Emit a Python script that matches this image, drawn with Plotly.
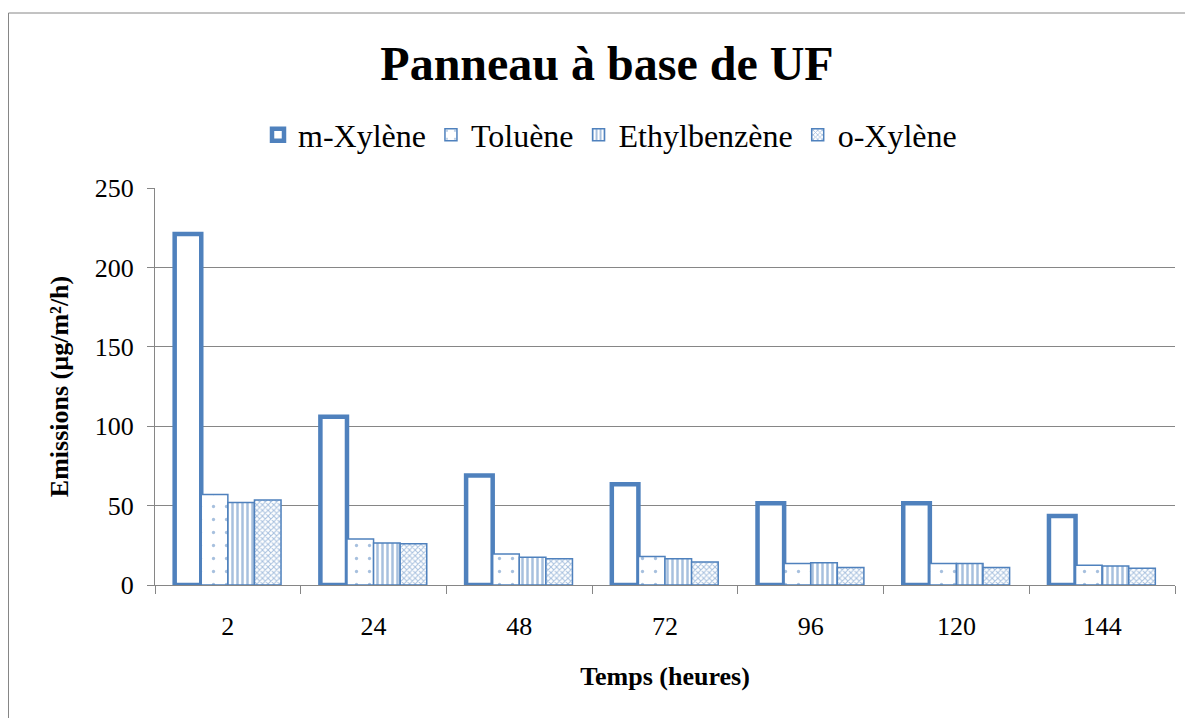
import plotly.graph_objects as go

categories = ["2", "24", "48", "72", "96", "120", "144"]
m_xylene = [221, 106, 69, 63.5, 51.5, 51.5, 43.5]
toluene = [57, 29, 19.5, 18, 13.5, 13.5, 12.5]
ethylbenzene = [52, 26.5, 17.5, 16.5, 14, 13.5, 12]
o_xylene = [53.5, 26, 16.5, 14.5, 11, 11, 10.5]

blue = "#4F81BD"
font = "Times New Roman, Liberation Serif, serif"

fig = go.Figure()
fig.add_trace(go.Bar(name="m-Xylène", x=categories, y=m_xylene,
                     marker=dict(color="white", line=dict(color=blue, width=4.5))))
fig.add_trace(go.Bar(name="Toluène", x=categories, y=toluene,
                     marker=dict(color="white", line=dict(color=blue, width=1.5),
                                 pattern=dict(shape=".", fgcolor=blue, bgcolor="white",
                                              size=13, solidity=0.05, fillmode="overlay"))))
fig.add_trace(go.Bar(name="Ethylbenzène", x=categories, y=ethylbenzene,
                     marker=dict(color="white", line=dict(color=blue, width=1.5),
                                 pattern=dict(shape="|", fgcolor=blue, bgcolor="white",
                                              size=5, solidity=0.5, fillmode="overlay"))))
fig.add_trace(go.Bar(name="o-Xylène", x=categories, y=o_xylene,
                     marker=dict(color="white", line=dict(color=blue, width=1.5),
                                 pattern=dict(shape="x", fgcolor=blue, bgcolor="white",
                                              size=4, solidity=0.45, fillmode="overlay"))))

L, T, R, B = 147, 180, 26, 141
PW = 1193 - L - R
PH = 718 - T - B

fig.update_layout(
    width=1193, height=718,
    margin=dict(l=L, r=R, t=T, b=B),
    paper_bgcolor="white", plot_bgcolor="white",
    barmode="group", bargap=0.27, bargroupgap=0,
    font=dict(family=font, color="black", size=26),
    title=dict(text="<b>Panneau à base de UF</b>", x=(607 - 8) / 1193, xanchor="center",
               y=1 - 55 / 718, yanchor="middle",
               font=dict(family=font, size=48, color="black")),
    legend=dict(orientation="h", x=(610 - 8 - L) / PW, xanchor="center",
                y=1 + (T - 127) / PH, yanchor="middle",
                font=dict(family=font, size=32, color="black"),
                itemwidth=30, traceorder="normal"),
    xaxis=dict(type="category", tickson="boundaries", ticks="outside", ticklen=8,
               tickcolor="#868686", showline=True, linecolor="#868686", linewidth=1,
               tickfont=dict(family=font, size=26), showgrid=False, ticklabelstandoff=18,
               title=dict(text="<b>Temps (heures)</b>", font=dict(family=font, size=26), standoff=26)),
    yaxis=dict(range=[0, 250], dtick=50, ticks="outside", ticklen=7, tickcolor="#868686",
               showline=True, linecolor="#868686", linewidth=1,
               showgrid=True, gridcolor="#868686", gridwidth=1, zeroline=False,
               tickfont=dict(family=font, size=26), ticklabelstandoff=8,
               title=dict(text="<b>Emissions (µg/m²/h)</b>", font=dict(family=font, size=26), standoff=18)),
    shapes=[dict(type="rect", xref="paper", yref="paper",
                 x0=(0.5 - L) / PW, x1=(1200 - L) / PW,
                 y0=-0.5, y1=(PH + T - 5) / PH,
                 line=dict(color="#868686", width=1), fillcolor="rgba(0,0,0,0)", layer="below")],
)

fig.write_html("out.html")
